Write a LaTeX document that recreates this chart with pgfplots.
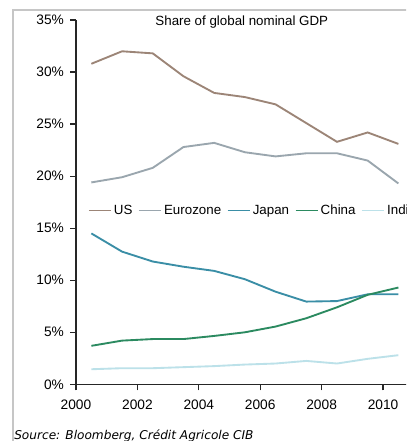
\documentclass[border=0pt]{standalone}
\usepackage{fontspec}
\setmainfont{Liberation Sans}
\newfontfamily\srcfont{DejaVu Sans}
\usepackage{pgfplots}
\pgfplotsset{compat=1.18}
\definecolor{cUS}{HTML}{9C8577}
\definecolor{cEZ}{HTML}{9AA6AE}
\definecolor{cJP}{HTML}{3A8EA6}
\definecolor{cCN}{HTML}{2B8A60}
\definecolor{cIN}{HTML}{BCE1E9}
\begin{document}
\begin{tikzpicture}
\useasboundingbox (0pt,0pt) rectangle (304.5pt,330.75pt);
\clip (0pt,0pt) rectangle (304.5pt,330.75pt);
\fill[white] (0pt,0pt) rectangle (304.5pt,330.75pt);
\draw[gray!45, line width=1.5pt] (9.4pt,0pt) -- (9.4pt,323.25pt) -- (310pt,323.25pt);
\node[anchor=base west, inner sep=0pt, font=\srcfont\itshape\fontsize{9.1pt}{10pt}\selectfont] at (10.5pt,1.2pt) {Source: Bloomberg, Crédit Agricole CIB};
\begin{axis}[
  at={(57pt,42.5pt)}, anchor=south west,
  scale only axis, width=253.3pt, height=273.2pt,
  xmin=2000, xmax=2011, ymin=0, ymax=35,
  axis x line*=bottom, axis y line*=left,
  axis line style={draw=black!85, line width=1.1pt, -},
  xtick={2000,2002,...,2010}, ytick={0,5,...,35},
  tick align=outside, major tick length=4.5pt,
  tick style={draw=black!85, line width=1pt},
  /pgf/number format/assume math mode=true,
  x tick label style={/pgf/number format/1000 sep={}, font=\fontsize{10.3pt}{12pt}\selectfont, yshift=-3.5pt},
  y tick label style={font=\fontsize{10.3pt}{12pt}\selectfont, xshift=-1pt},
  yticklabel={\pgfmathprintnumber{\tick}\%},
  clip=false,
  legend columns=-1,
  legend style={at={(axis cs:2000.39,16.66)}, anchor=west, draw=none, fill=none, inner sep=0pt,
    font=\fontsize{10pt}{12pt}\selectfont,
    /tikz/every even column/.append style={column sep=2.4pt}},
  legend image code/.code={\draw[#1, line width=0.8pt] (0cm,0cm) -- (0.58cm,0cm);},
  every axis plot/.append style={line width=1.4pt},
]
\addplot[cUS] coordinates {(2000.5,30.8) (2001.5,32.0) (2002.5,31.8) (2003.5,29.6) (2004.5,28.0) (2005.5,27.6) (2006.5,26.9) (2007.5,25.1) (2008.5,23.3) (2009.5,24.2) (2010.5,23.1)};
\addplot[cEZ] coordinates {(2000.5,19.4) (2001.5,19.9) (2002.5,20.8) (2003.5,22.8) (2004.5,23.2) (2005.5,22.3) (2006.5,21.9) (2007.5,22.2) (2008.5,22.2) (2009.5,21.5) (2010.5,19.3)};
\addplot[cJP] coordinates {(2000.5,14.5) (2001.5,12.75) (2002.5,11.8) (2003.5,11.3) (2004.5,10.9) (2005.5,10.1) (2006.5,8.9) (2007.5,7.95) (2008.5,8.0) (2009.5,8.65) (2010.5,8.65)};
\addplot[cCN] coordinates {(2000.5,3.7) (2001.5,4.2) (2002.5,4.35) (2003.5,4.35) (2004.5,4.65) (2005.5,5.0) (2006.5,5.55) (2007.5,6.35) (2008.5,7.4) (2009.5,8.6) (2010.5,9.3)};
\addplot[cIN] coordinates {(2000.5,1.45) (2001.5,1.55) (2002.5,1.55) (2003.5,1.65) (2004.5,1.75) (2005.5,1.9) (2006.5,2.0) (2007.5,2.25) (2008.5,2.0) (2009.5,2.45) (2010.5,2.8)};
\legend{US,Eurozone,Japan,China,India}
\node[anchor=base, inner sep=0pt, font=\fontsize{10pt}{12pt}\selectfont] at (axis cs:2005.4,34.5) {Share of global nominal GDP};
\end{axis}
\end{tikzpicture}
\end{document}
